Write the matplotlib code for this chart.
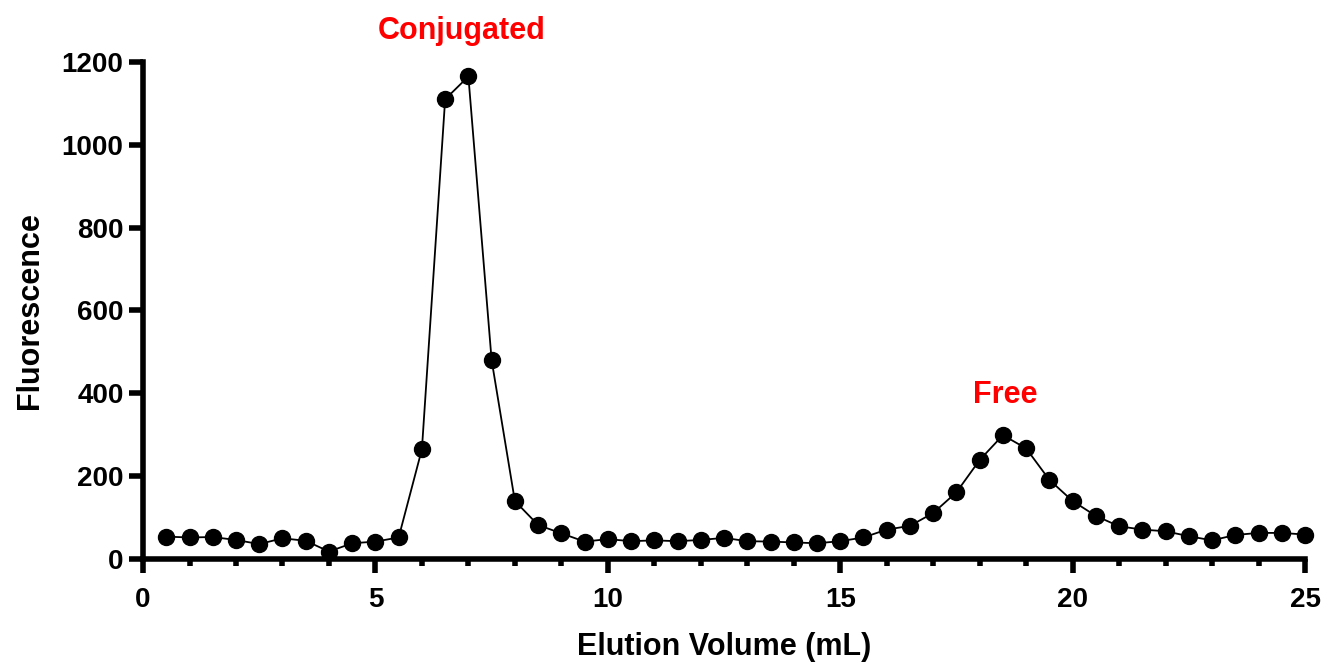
import numpy as np
import matplotlib
matplotlib.use("Agg")
import matplotlib.pyplot as plt
from matplotlib.ticker import MultipleLocator

# Elution profile (mL vs fluorescence)
volume = [0.5, 1.0, 1.5, 2.0, 2.5, 3.0, 3.5, 4.0, 4.5, 5.0,
          5.5, 6.0, 6.5, 7.0, 7.5, 8.0, 8.5, 9.0, 9.5, 10.0,
          10.5, 11.0, 11.5, 12.0, 12.5, 13.0, 13.5, 14.0, 14.5, 15.0,
          15.5, 16.0, 16.5, 17.0, 17.5, 18.0, 18.5, 19.0, 19.5, 20.0,
          20.5, 21.0, 21.5, 22.0, 22.5, 23.0, 23.5, 24.0, 24.5, 25.0]
fluorescence = [54, 52, 53, 46, 36, 50, 44, 18, 38, 42,
                52, 265, 1110, 1165, 480, 140, 82, 62, 42, 48,
                43, 45, 43, 46, 51, 43, 42, 40, 38, 43,
                52, 71, 80, 111, 161, 239, 299, 267, 191, 140,
                104, 79, 71, 67, 55, 45, 58, 63, 63, 59]

peak_labels = ["Conjugated", "Free"]
peak_pos = [(6.86, 1275), (18.54, 395)]

plt.rcParams['font.family'] = ['Liberation Sans', 'DejaVu Sans']
plt.rcParams['font.weight'] = 'bold'

fig = plt.figure(figsize=(13.28, 6.65), dpi=100)
ax = fig.add_axes([0.1077, 0.1594, 0.8750, 0.7474])

ax.plot(volume, fluorescence, color='black', linewidth=1.3, marker='o',
        markersize=11.5, markerfacecolor='black', markeredgecolor='black',
        clip_on=False, zorder=3)

ax.set_xlim(0, 25)
ax.set_ylim(0, 1200)
ax.xaxis.set_major_locator(MultipleLocator(5))
ax.xaxis.set_minor_locator(MultipleLocator(1))
ax.yaxis.set_major_locator(MultipleLocator(200))

for side in ['top', 'right']:
    ax.spines[side].set_visible(False)
for side in ['left', 'bottom']:
    ax.spines[side].set_linewidth(4)
    ax.spines[side].set_capstyle('projecting')

ax.tick_params(axis='both', which='major', length=10, width=4, labelsize=20)
ax.tick_params(axis='x', which='major', pad=10)
ax.tick_params(axis='y', which='major', pad=4)
ax.tick_params(axis='x', which='minor', length=5, width=4)
for lbl in ax.get_xticklabels() + ax.get_yticklabels():
    lbl.set_fontweight('bold')

ax.set_xlabel("Elution Volume (mL)", fontsize=22, fontweight='bold', labelpad=14)
ax.set_ylabel("Fluorescence", fontsize=22, fontweight='bold', labelpad=12)

for txt, (px, py) in zip(peak_labels, peak_pos):
    ax.text(px, py, txt, color='#ff0000', fontsize=22, fontweight='bold',
            ha='center', va='center', clip_on=False)

fig.savefig("out.png", dpi=100)
